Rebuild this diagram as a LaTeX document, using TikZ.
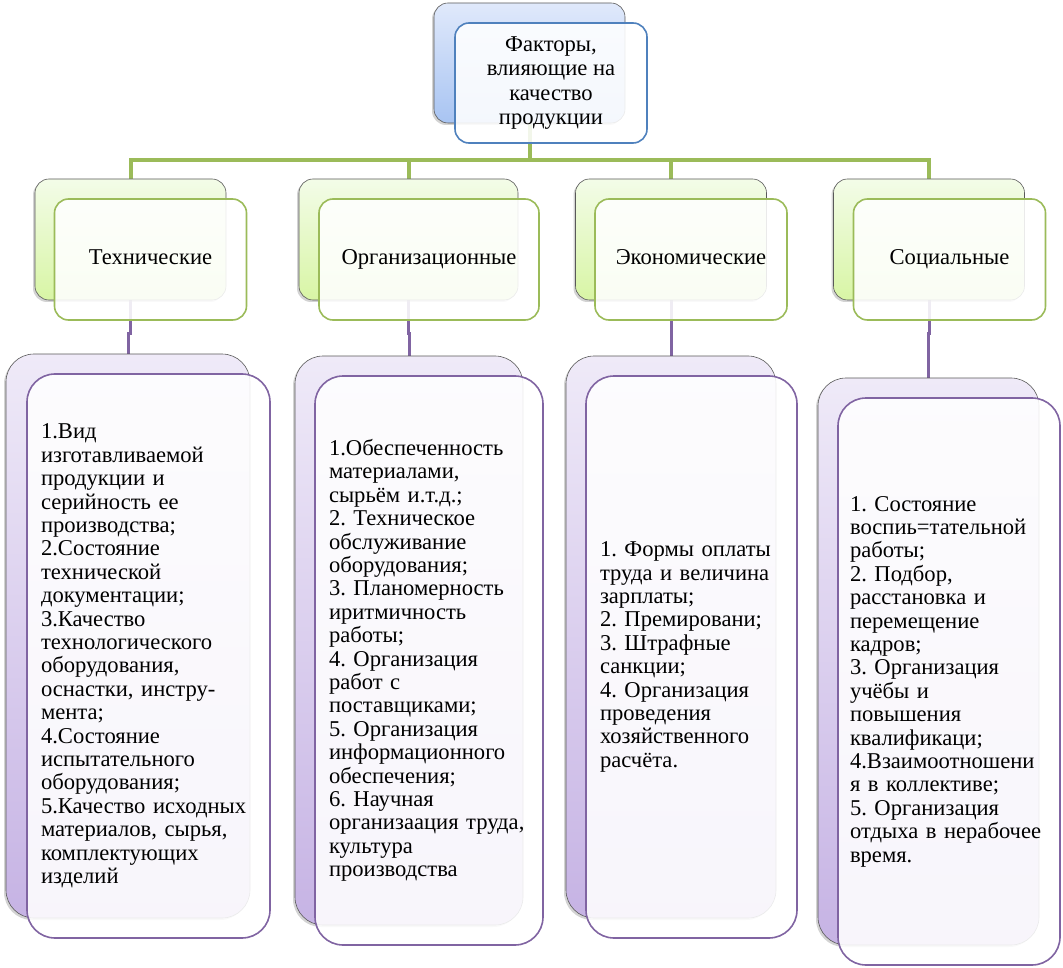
\documentclass[tikz,border=0pt]{standalone}
\usepackage{fontspec}
\setmainfont{Liberation Serif}
\usetikzlibrary{shadows,backgrounds}

\definecolor{blueln}{HTML}{4F81BD}
\definecolor{greenln}{HTML}{9BBB59}
\definecolor{purpleln}{HTML}{8064A2}
\definecolor{bluetop}{HTML}{E0E9FB}
\definecolor{bluebot}{HTML}{A8C4F2}
\definecolor{greentop}{HTML}{F3FCE8}
\definecolor{greenbot}{HTML}{D8F5A5}
\definecolor{purpletop}{HTML}{EFEAF8}
\definecolor{purplebot}{HTML}{C6B3E4}

\begin{document}
\frenchspacing
\begin{tikzpicture}[x=1pt, y=-1pt,
    every node/.style={font=\fontsize{22.6}{23.4}\selectfont, inner sep=0pt},
    backbox/.style={draw=black!65, line width=.6pt, rounded corners=14pt,
        drop shadow={shadow xshift=-2pt, shadow yshift=-2pt, opacity=.35}},
    topback/.style={backbox, top color=bluetop, bottom color=bluebot},
    headback/.style={backbox, top color=greentop, bottom color=greenbot, minimum width=191pt, minimum height=121pt},
    listback/.style={backbox, rounded corners=28pt, top color=purpletop, bottom color=purplebot},
    frontbox/.style={fill=white, fill opacity=.88, text opacity=1, line width=1.6pt, rounded corners=14pt},
    headfront/.style={frontbox, draw=greenln, minimum width=192pt, minimum height=121pt, text height=15pt, text depth=5pt},
    listfront/.style={frontbox, draw=purpleln, rounded corners=28pt, inner xsep=14pt, align=left},
    greenline/.style={draw=greenln, line width=4pt},
    purpleline/.style={draw=purpleln, line width=3pt}]
    \useasboundingbox (0,0) rectangle (1063,968);

    % Top box
    \node[topback, minimum width=191pt, minimum height=120pt] (top-back) at (529.5,63) {};
    \node[frontbox, draw=blueln, minimum width=192pt, minimum height=120pt, align=center,
        font=\fontsize{22.6}{24.5}\selectfont] (top-front) at (551,83)
        {Факторы,\\ влияющие на\\ качество\\ продукции};

    % Groups of factors
    \node[headback] (head-tech) at (130.5,239.5) {};
    \node[headfront] (headf-tech) at (150.5,259.5) {Технические};
    \node[headback, minimum width=219pt] (head-org) at (408.5,239.5) {};
    \node[headfront, minimum width=220pt] (headf-org) at (429,259.5) {Организационные};
    \node[headback] (head-econ) at (671,239.5) {};
    \node[headfront] (headf-econ) at (691,259.5) {Экономические};
    \node[headback] (head-soc) at (929,239.5) {};
    \node[headfront] (headf-soc) at (949.5,259.5) {Социальные};

    % Lists
    \node[listback, minimum width=244pt, minimum height=564pt] (list-tech) at (128,636) {};
    \node[listfront, text width=215pt, minimum height=564pt] (listf-tech) at (148.5,656)
        {1.Вид\\ изготавливаемой\\ продукции и\\ серийность ее\\ производства;\\ 2.Состояние\\ технической\\ документации;\\ 3.Качество\\ технологического\\ оборудования,\\ оснастки, инстру-\\ мента;\\ 4.Состояние\\ испытательного\\ оборудования;\\ 5.Качество исходных\\ материалов, сырья,\\ комплектующих\\ изделий};
    \node[listback, minimum width=228pt, minimum height=569pt] (list-org) at (409,640.5) {};
    \node[listfront, text width=200pt, minimum height=569pt] (listf-org) at (429,660.5)
        {1.Обеспеченность\\ материалами,\\ сырьём и.т.д.;\\ 2. Техническое\\ обслуживание\\ оборудования;\\ 3. Планомерность\\ иритмичность\\ работы;\\ 4. Организация\\ работ с\\ поставщиками;\\ 5. Организация\\ информационного\\ обеспечения;\\ 6. Научная\\ организаация труда,\\ культура\\ производства};
    \node[listback, minimum width=210pt, minimum height=562pt] (list-econ) at (671,637) {};
    \node[listfront, text width=183pt, minimum height=562pt] (listf-econ) at (691.5,657)
        {1. Формы оплаты\\ труда и величина\\ зарплаты;\\ 2. Премировани;\\ 3. Штрафные\\ санкции;\\ 4. Организация\\ проведения\\ хозяйственного\\ расчёта.};
    \node[listback, minimum width=221pt, minimum height=567pt] (list-soc) at (928.5,661.5) {};
    \node[listfront, text width=198pt, inner xsep=12pt, minimum height=567pt] (listf-soc) at (949,681.5)
        {1. Состояние\\ воспиь=тательной\\ работы;\\ 2. Подбор,\\ расстановка и\\ перемещение\\ кадров;\\ 3. Организация\\ учёбы и\\ повышения\\ квалификаци;\\ 4.Взаимоотношени\\ я в коллективе;\\ 5. Организация\\ отдыха в нерабочее\\ время.};

    % Connectors
    \begin{scope}[on background layer]
        \foreach \n in {tech,org,econ,soc} {
            \draw[greenline] (top-back.south) -- ++(0,37) -| (head-\n.north);
            \draw[purpleline] (head-\n.south) -- ++(0,33) -| (list-\n.north);
        }
    \end{scope}
\end{tikzpicture}
\end{document}
